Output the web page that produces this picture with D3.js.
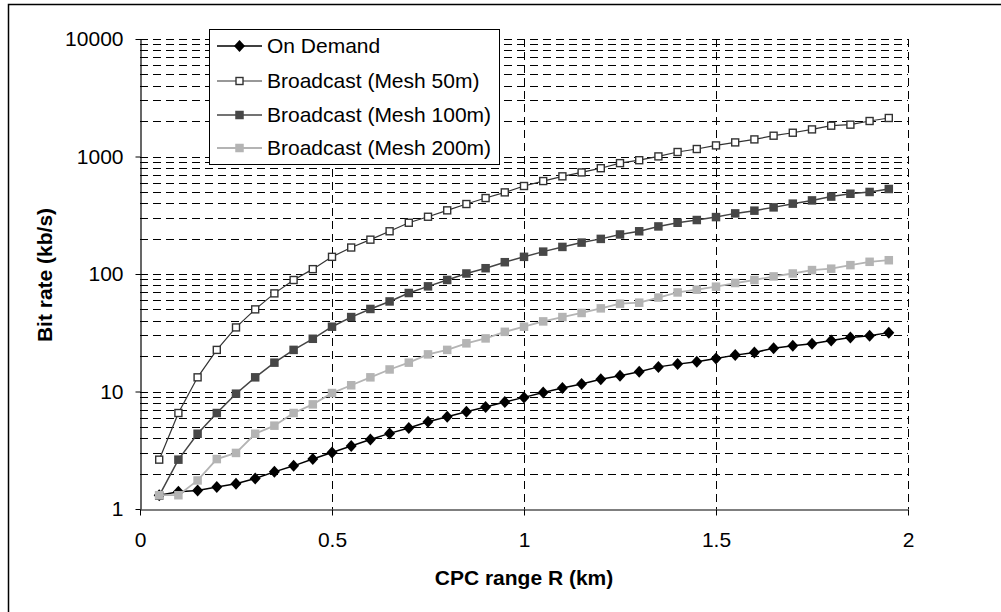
<!DOCTYPE html>
<html>
<head>
<meta charset="utf-8">
<script src="https://cdn.jsdelivr.net/npm/d3@7"></script>
<style>
  html, body { margin: 0; padding: 0; background: #fff; }
  svg { display: block; font-family: "Liberation Sans", Arial, sans-serif; }
</style>
</head>
<body>
<svg id="chart" width="1001" height="612"></svg>
<script>
// CPC range R (km)
const ranges = [0.05, 0.10, 0.15, 0.20, 0.25, 0.30, 0.35, 0.40, 0.45, 0.50,
  0.55, 0.60, 0.65, 0.70, 0.75, 0.80, 0.85, 0.90, 0.95, 1.00,
  1.05, 1.10, 1.15, 1.20, 1.25, 1.30, 1.35, 1.40, 1.45, 1.50,
  1.55, 1.60, 1.65, 1.70, 1.75, 1.80, 1.85, 1.90, 1.95]

// bit rates (kb/s)
const onDemand = [1.31, 1.40, 1.44, 1.54, 1.64, 1.82, 2.07, 2.33, 2.66, 3.03,
  3.44, 3.91, 4.40, 4.89, 5.53, 6.1, 6.73, 7.38, 8.13, 8.91,
  9.82, 10.7, 11.6, 12.7, 13.6, 14.7, 16.2, 17.1, 17.9, 19.1,
  20.4, 21.5, 23.3, 24.5, 25.5, 27.2, 28.8, 29.8, 31.7]
const mesh50 = [2.63, 6.56, 13.2, 22.6, 35.1, 50, 68.4, 88.9, 110, 140,
  168, 196, 231, 273, 307, 348, 394, 443, 495, 561,
  618, 678, 732, 795, 878, 930, 1002, 1092, 1158, 1243,
  1318, 1398, 1503, 1593, 1701, 1829, 1866, 2005, 2127]
const mesh100 = [1.3, 2.63, 4.37, 6.56, 9.58, 13.2, 17.6, 22.6, 28.1, 35.6,
  43, 50.4, 58.4, 68.9, 78.5, 89, 101, 112, 126, 140,
  155, 170, 185, 199, 217, 231, 254, 273, 288, 305,
  328, 346, 369, 397, 423, 456, 482, 499, 529]
const mesh200 = [1.31, 1.31, 1.75, 2.66, 3.0, 4.37, 5.12, 6.56, 7.77, 9.7,
  11.3, 13.2, 15.4, 17.6, 20.7, 22.6, 25.7, 28.3, 32.2, 35.6,
  39.5, 43, 46.6, 51, 55.9, 57, 63, 69.7, 73.5, 78,
  83.8, 88.9, 95.4, 101, 108, 111, 119, 127, 131]

const seriesNames = ['On Demand', 'Broadcast (Mesh 50m)', 'Broadcast (Mesh 100m)', 'Broadcast (Mesh 200m)']
const xTicks = [0, 0.5, 1, 1.5, 2]
const yTicks = [1, 10, 100, 1000, 10000]

const series = [
  { name: seriesNames[0], values: onDemand, line: '#000', width: 1.5, marker: 'diamond', fill: '#000', stroke: '#000' },
  { name: seriesNames[1], values: mesh50, line: '#333', width: 1.2, marker: 'square', fill: '#fff', stroke: '#333', size: 7 },
  { name: seriesNames[2], values: mesh100, line: '#444', width: 1.5, marker: 'square', fill: '#474747', stroke: 'none', size: 8.5 },
  { name: seriesNames[3], values: mesh200, line: '#b4b4b4', width: 1.8, marker: 'square', fill: '#b4b4b4', stroke: 'none', size: 8.5 }
]

const svg = d3.select('#chart')
const plotLeft = 140, plotRight = 908, plotTop = 39, plotBottom = 509

const x = d3.scaleLinear().domain([0, 2]).range([plotLeft, plotRight])
const y = d3.scaleLog().domain([1, 10000]).range([plotBottom, plotTop])

// outer frame
svg.append('rect')
  .attr('x', 8.5).attr('y', 4.5).attr('width', 1010).attr('height', 620)
  .attr('fill', 'none').attr('stroke', '#000').attr('stroke-width', 1.5)

// horizontal dashed grid at every 1..9 step of each decade
const minor = []
for (let d = 1; d <= 1000; d *= 10) {
  for (let k = 2; k <= 10; k++) minor.push(d * k)
}
svg.append('g')
  .selectAll('line')
  .data(minor)
  .join('line')
  .attr('x1', plotLeft).attr('x2', plotRight)
  .attr('y1', d => Math.round(y(d)) + 0.5)
  .attr('y2', d => Math.round(y(d)) + 0.5)
  .attr('stroke', '#000')
  .attr('stroke-width', 1)
  .attr('stroke-dasharray', '8,5')

// vertical dashed grid
svg.append('g')
  .selectAll('line')
  .data(xTicks.slice(1))
  .join('line')
  .attr('x1', d => Math.round(x(d)) + 0.5)
  .attr('x2', d => Math.round(x(d)) + 0.5)
  .attr('y1', plotTop).attr('y2', plotBottom)
  .attr('stroke', '#000')
  .attr('stroke-width', 1)
  .attr('stroke-dasharray', '8,5')

// axes
const xAxis = d3.axisBottom(x).tickValues(xTicks).tickFormat(d3.format('')).tickSize(6).tickSizeOuter(0)
const yAxis = d3.axisLeft(y).tickValues(yTicks).tickFormat(d3.format('')).tickSize(5).tickSizeOuter(0)

const gx = svg.append('g').attr('transform', `translate(0,${plotBottom + 0.5})`).call(xAxis)
gx.select('.domain').attr('stroke', '#000').attr('stroke-width', 1.2)
gx.selectAll('.tick line').attr('stroke', '#000')
gx.selectAll('.tick text')
  .attr('font-size', 21).attr('fill', '#000')
  .attr('font-family', '"Liberation Sans", Arial, sans-serif')
  .attr('y', 23).attr('dy', '0.71em')

const gy = svg.append('g').attr('transform', `translate(${plotLeft + 0.5},0)`).call(yAxis)
gy.select('.domain').attr('stroke', '#000').attr('stroke-width', 1.2)
gy.selectAll('.tick line').attr('stroke', '#000')
gy.selectAll('.tick text')
  .attr('font-size', 21).attr('fill', '#000')
  .attr('font-family', '"Liberation Sans", Arial, sans-serif')
  .attr('x', -17)

// axis titles
svg.append('text')
  .attr('x', 524).attr('y', 585)
  .attr('text-anchor', 'middle')
  .attr('font-size', 21).attr('font-weight', 'bold')
  .text('CPC range R (km)')

svg.append('text')
  .attr('transform', 'translate(52,275) rotate(-90)')
  .attr('text-anchor', 'middle')
  .attr('font-size', 21).attr('font-weight', 'bold')
  .text('Bit rate (kb/s)')

function drawMarker(g, s, cx, cy) {
  if (s.marker === 'diamond') {
    g.append('path')
      .attr('d', `M${cx},${cy - 6}L${cx + 5.5},${cy}L${cx},${cy + 6}L${cx - 5.5},${cy}Z`)
      .attr('fill', s.fill)
  } else {
    const h = s.size / 2
    g.append('rect')
      .attr('x', cx - h).attr('y', cy - h)
      .attr('width', s.size).attr('height', s.size)
      .attr('fill', s.fill)
      .attr('stroke', s.stroke)
      .attr('stroke-width', s.stroke === 'none' ? 0 : 1.4)
  }
}

// series
const line = d3.line()
series.forEach(s => {
  const pts = ranges.map((r, i) => [x(r), y(s.values[i])])
  const g = svg.append('g')
  g.append('path')
    .attr('d', line(pts))
    .attr('fill', 'none')
    .attr('stroke', s.line)
    .attr('stroke-width', s.width)
  pts.forEach(p => drawMarker(g, s, p[0], p[1]))
})

// legend
const lg = svg.append('g')
lg.append('rect')
  .attr('x', 209.5).attr('y', 29.5).attr('width', 290).attr('height', 135)
  .attr('fill', '#fff').attr('stroke', '#000').attr('stroke-width', 1)
const rowY = [46, 81, 115, 148]
series.forEach((s, i) => {
  lg.append('line')
    .attr('x1', 217).attr('x2', 262)
    .attr('y1', rowY[i]).attr('y2', rowY[i])
    .attr('stroke', s.line).attr('stroke-width', s.width)
  drawMarker(lg, s, 239.5, rowY[i])
  lg.append('text')
    .attr('x', 267).attr('y', rowY[i])
    .attr('dy', '0.35em')
    .attr('font-size', 21)
    .text(s.name)
})
</script>
</body>
</html>
